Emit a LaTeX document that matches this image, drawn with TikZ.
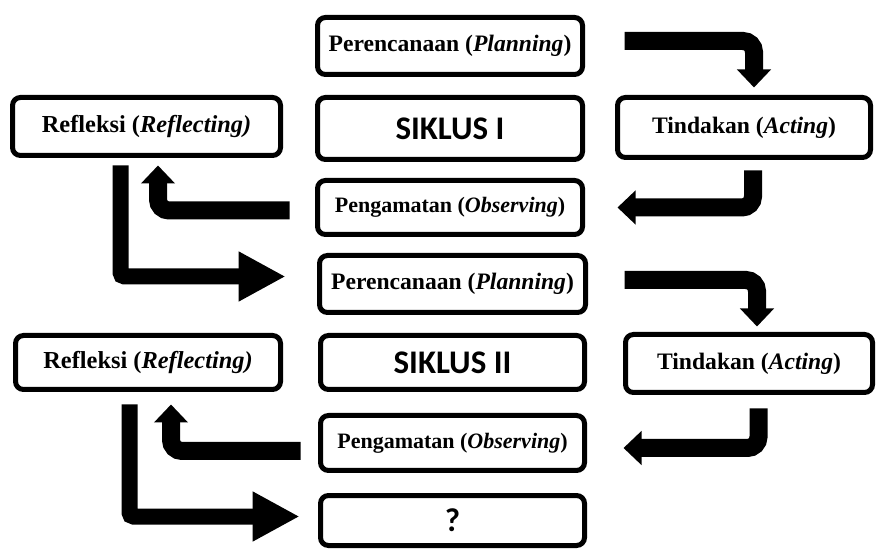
\documentclass[tikz,border=0pt]{standalone}
\usepackage{fontspec}
\setmainfont{Liberation Serif}
\newfontfamily\headfont{Carlito}
\usepackage{tikz}
\usetikzlibrary{arrows.meta,calc}

\tikzset{
  stage/.style={draw,line width=2.5pt,rounded corners=4pt,inner sep=0pt,
    minimum width=132.5pt,minimum height=28.5pt,
    font=\fontsize{11.8}{14}\selectfont\bfseries},
  cycle/.style={stage,font=\headfont\fontsize{16.5}{18}\selectfont\bfseries},
  flow/.style={line width=9pt,rounded corners=5.5pt,
    -{Triangle[length=9pt,width=16.5pt]}},
  jump/.style={line width=8pt,rounded corners=2pt,
    -{Triangle[length=23.5pt,width=23.5pt]}}
}

\begin{document}
\begin{tikzpicture}[x=0.5pt,y=-0.5pt]
  \useasboundingbox (0,0) rectangle (878,550);
  % siklus I
  \node[stage] (plan1) at (450,46) {Perencanaan (\textit{Planning})};
  \node[cycle,minimum height=31pt] (cyc1) at (450,128.5) {SIKLUS I};
  \node[stage,minimum height=27pt,font=\fontsize{11}{13}\selectfont\bfseries] (obs1) at (450,207.5) {Pengamatan (\textit{Observing})};
  \node[stage,minimum width=134pt,minimum height=29pt,font=\fontsize{12.2}{14}\selectfont\bfseries] (refl1) at (146.5,126.5) {Refleksi (\textit{Reflecting)}};
  \node[stage,minimum width=126.5pt,minimum height=30pt] (act1) at (744,127.5) {Tindakan (\textit{Acting})};
  % siklus II
  \node[stage,minimum width=133pt] (plan2) at (452.5,284) {Perencanaan (\textit{Planning})};
  \node[cycle,minimum width=132pt,minimum height=27pt] (cyc2) at (452.5,362.5) {SIKLUS II};
  \node[stage,minimum width=132.5pt,minimum height=27pt,font=\fontsize{12.2}{14}\selectfont\bfseries] (refl2) at (148,362.5) {Refleksi (\textit{Reflecting)}};
  \node[stage,minimum width=123.5pt,minimum height=29pt] (act2) at (749,363.5) {Tindakan (\textit{Acting})};
  \node[stage,minimum width=132pt,minimum height=27.5pt,font=\fontsize{11}{13}\selectfont\bfseries] (obs2) at (452.5,443) {Pengamatan (\textit{Observing})};
  \node[cycle,minimum width=132pt,minimum height=25pt] (next) at (452.5,520.5) {?};

  % arrows
  \draw[flow] ($(plan1.east)+(39.5,-5)$) -| ($(act1.north)+(10,-7.5)$);
  \draw[flow] ($(act1.south)+(9,10.5)$) |- ($(obs1.east)+(32.5,0)$);
  \draw[flow] ($(obs1.west)+(-25.5,3)$) -| ($(refl1.south)+(11.5,7.5)$);
  \draw[jump] ($(refl1.south)+(-26,7.5)$) |- ($(plan2.west)+(-31.5,-7.5)$);
  \draw[flow] ($(plan2.east)+(36.5,-4)$) -| ($(act2.north)+(8,-5.5)$);
  \draw[flow] ($(act2.south)+(9.5,13.5)$) |- ($(obs2.east)+(36.5,5)$);
  \draw[flow] ($(obs2.west)+(-17.5,8)$) -| ($(refl2.south)+(23,12.5)$);
  \draw[jump] ($(refl2.south)+(-18.5,12.5)$) |- ($(next.west)+(-18.5,-4)$);
\end{tikzpicture}
\end{document}
